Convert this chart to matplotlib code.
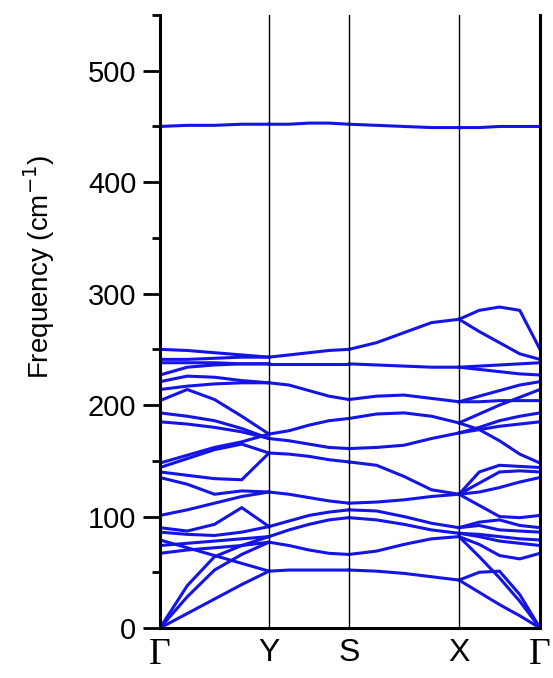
import matplotlib.pyplot as plt
import numpy as np

# high-symmetry points, path positions
kpoint_labels = ['\u0393', 'Y', 'S', 'X', '\u0393']
kpoint_pos = [0, 109, 189, 299, 380]

# each row: frequency (cm-1) at 0, 1/4, 1/2, 3/4, 1 of the segment
seg_GY = [
    [0, 13, 26, 39, 51],
    [79, 72, 65, 58, 51],
    [0, 28, 52, 66, 77],
    [67, 70, 72, 74, 77],
    [0, 38, 64, 74, 82],
    [74, 76, 78, 80, 82],
    [90, 87, 93, 108, 91],
    [86, 84, 83, 86, 91],
    [101, 106, 112, 118, 122],
    [135, 129, 120, 123, 122],
    [140, 137, 134, 133, 157],
    [144, 152, 160, 165, 157],
    [148, 155, 162, 167, 174],
    [185, 183, 180, 176, 170],
    [193, 190, 186, 179, 170],
    [204, 214, 205, 190, 174],
    [214, 217, 219, 220, 220],
    [221, 226, 225, 222, 220],
    [227, 234, 236, 237, 237],
    [238, 238, 238, 237, 237],
    [241, 241, 242, 243, 243],
    [250, 249, 247, 245, 243],
    [450, 451, 451, 452, 452],
]

seg_YS = [
    [51, 52, 52, 52, 52],
    [77, 74, 70, 67, 66],
    [82, 88, 93, 97, 99],
    [91, 96, 101, 104, 106],
    [122, 120, 117, 114, 112],
    [157, 156, 154, 151, 149],
    [170, 168, 165, 162, 161],
    [174, 177, 182, 186, 188],
    [220, 218, 213, 208, 205],
    [237, 237, 237, 237, 237],
    [243, 245, 247, 249, 250],
    [452, 452, 453, 453, 452],
]

seg_SX = [
    [52, 51, 49, 46, 43],
    [66, 69, 75, 80, 82],
    [99, 97, 93, 88, 85],
    [106, 105, 100, 94, 90],
    [112, 113, 115, 118, 120],
    [149, 146, 136, 124, 120],
    [161, 162, 164, 170, 175],
    [188, 192, 193, 190, 184],
    [205, 208, 209, 206, 203],
    [237, 236, 235, 234, 234],
    [250, 256, 265, 274, 277],
    [452, 451, 450, 449, 449],
]

seg_XG = [
    [43, 32, 21, 11, 0],
    [43, 50, 51, 30, 0],
    [82, 64, 45, 24, 0],
    [82, 75, 65, 62, 67],
    [85, 82, 78, 76, 74],
    [85, 84, 82, 80, 79],
    [90, 92, 88, 87, 86],
    [90, 95, 97, 92, 90],
    [120, 110, 100, 99, 101],
    [120, 122, 126, 131, 135],
    [120, 130, 140, 141, 140],
    [120, 140, 146, 145, 144],
    [175, 180, 186, 190, 193],
    [175, 178, 181, 183, 185],
    [184, 178, 168, 156, 148],
    [184, 192, 200, 207, 214],
    [203, 208, 213, 218, 221],
    [203, 203, 204, 204, 204],
    [234, 235, 236, 237, 238],
    [234, 232, 230, 228, 227],
    [277, 285, 288, 285, 250],
    [277, 266, 256, 246, 241],
    [449, 449, 450, 450, 450],
]

segments = [seg_GY, seg_YS, seg_SX, seg_XG]

fig = plt.figure(figsize=(5.53, 6.78), dpi=100)
ax = fig.add_axes([160/553, 50/678, 380/553, 613/678])

for i, seg in enumerate(segments):
    x = np.linspace(kpoint_pos[i], kpoint_pos[i+1], 5)
    for band in seg:
        ax.plot(x, band, color='#1414e6', lw=2.2, solid_joinstyle='round')

for p in kpoint_pos[1:-1]:
    ax.axvline(p, color='k', lw=1.0)

ax.set_xlim(kpoint_pos[0], kpoint_pos[-1])
ax.set_ylim(0, 550)

ax.spines['top'].set_visible(False)
for s in ['left', 'bottom', 'right']:
    ax.spines[s].set_linewidth(2.2)

ax.set_yticks([0, 100, 200, 300, 400, 500])
ax.set_yticks(np.arange(50, 551, 100), minor=True)
ax.tick_params(axis='y', which='major', direction='out', length=12, width=2,
               labelsize=21, pad=5)
ax.tick_params(axis='y', which='minor', direction='out', length=6, width=2)
ax.tick_params(axis='x', length=0, pad=7)
for lab in ax.get_yticklabels():
    lab.set_family('Liberation Sans')

ax.set_xticks(kpoint_pos)
ax.set_xticklabels(kpoint_labels)
for lab, t in zip(ax.get_xticklabels(), kpoint_labels):
    if t == '\u0393':
        lab.set_fontsize(27)
        lab.set_family('Liberation Serif')
    else:
        lab.set_fontsize(23)
        lab.set_family('Liberation Sans')

ax.set_ylabel('Frequency (cm$^{-1}$)', fontsize=20, family='Liberation Sans')
ax.yaxis.set_label_coords(-0.27, 0.59)

fig.savefig('out.png', dpi=100)
